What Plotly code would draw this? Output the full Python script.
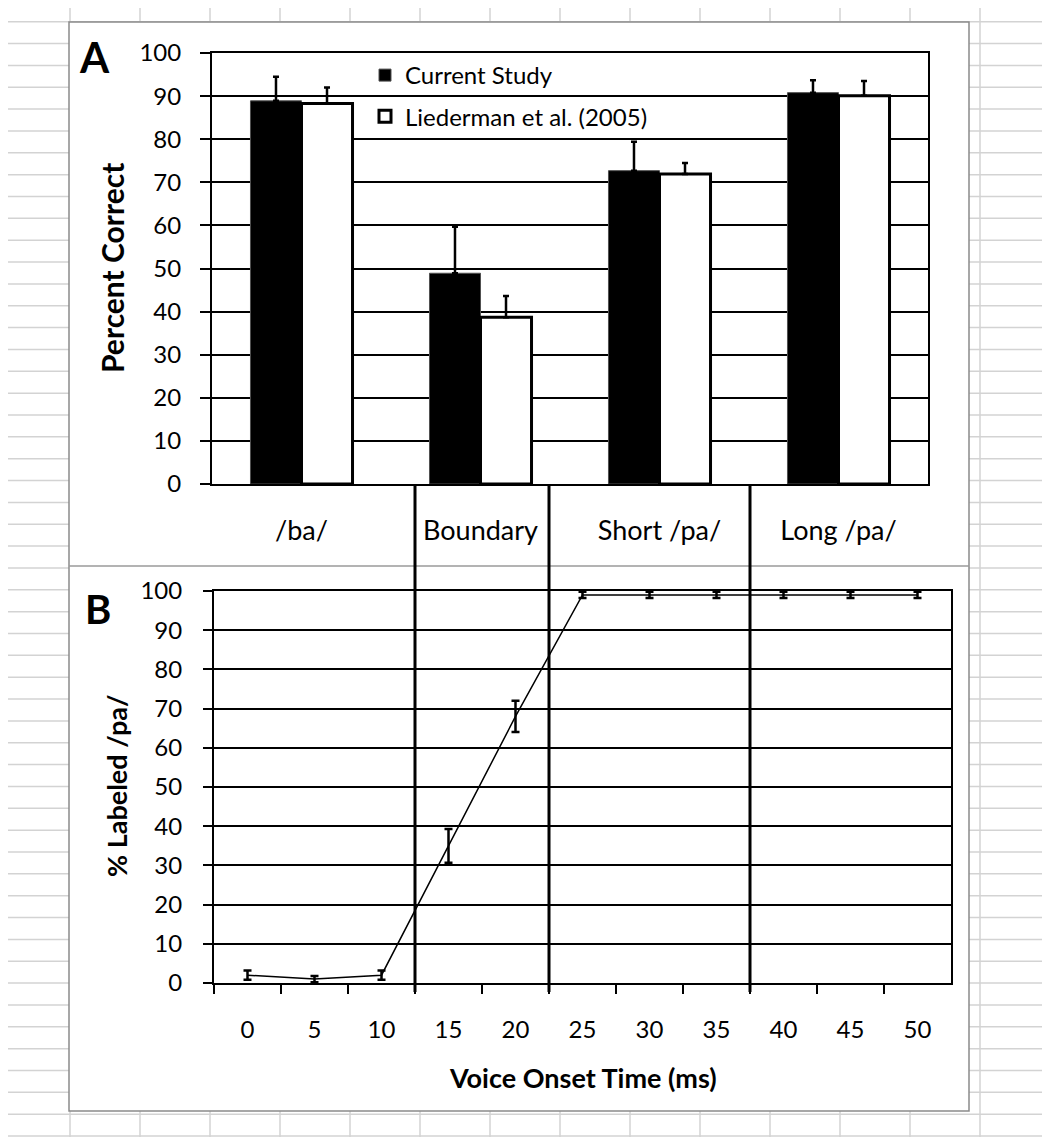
import plotly.graph_objects as go

# Panel A: percent correct per stimulus category
categories = ["/ba/", "Boundary", "Short /pa/", "Long /pa/"]
current_study = [88.9, 48.9, 72.7, 90.8]
current_err = [5.6, 10.8, 6.7, 2.9]
liederman = [88.3, 38.7, 71.9, 90.1]
liederman_err = [3.7, 4.9, 2.6, 3.4]

# Panel B: identification function
vot_ms = ["0", "5", "10", "15", "20", "25", "30", "35", "40", "45", "50"]
pct_labeled_pa = [2, 1, 2, 35, 68, 99, 99, 99, 99, 99, 99]
pct_err = [1.2, 0.8, 1.2, 4.3, 4.0, 0.8, 0.8, 0.8, 0.8, 0.8, 0.8]

# category boundaries on the VOT axis (between 10|15, 20|25, 35|40)
region_edges = [2.5, 4.5, 7.5]

FONT = "Lato"
W, H = 1050, 1137
OFF = 8  # page body margin of the html file


def px_x(v):
    return (v - OFF) / W


def px_y(v):
    return 1 - (v - OFF) / H


fig = go.Figure()

fig.add_trace(go.Bar(
    x=categories, y=current_study, name="Current Study",
    marker=dict(color="black", line=dict(color="#505050", width=1)),
    error_y=dict(type="data", symmetric=False, array=current_err,
                 arrayminus=[0] * len(current_err), color="black",
                 thickness=2.5, width=3),
    xaxis="x", yaxis="y", legendgroup="a",
))
fig.add_trace(go.Bar(
    x=categories, y=liederman, name="Liederman et al. (2005)",
    marker=dict(color="white", line=dict(color="black", width=3)),
    error_y=dict(type="data", symmetric=False, array=liederman_err,
                 arrayminus=[0] * len(liederman_err), color="black",
                 thickness=2.5, width=3),
    xaxis="x", yaxis="y", legendgroup="b",
))
fig.add_trace(go.Scatter(
    x=vot_ms, y=pct_labeled_pa, mode="lines",
    line=dict(color="black", width=1.5),
    error_y=dict(type="data", array=pct_err, color="black",
                 thickness=2.5, width=4),
    xaxis="x2", yaxis="y2", showlegend=False,
))

# spreadsheet background
shapes = []
grid = dict(color="#d3d3d3", width=1.5)
for k in range(1, 15):
    shapes.append(dict(type="line", xref="paper", yref="paper", layer="below",
                       x0=px_x(70 * k), x1=px_x(70 * k), y0=-0.05, y1=1.05, line=grid))
for k in range(0, 53):
    y = 21.7 + 21.85 * k
    shapes.append(dict(type="line", xref="paper", yref="paper", layer="below",
                       x0=-0.05, x1=1.05, y0=px_y(y), y1=px_y(y), line=grid))
# chart box
shapes.append(dict(type="rect", xref="paper", yref="paper", layer="below",
                   x0=px_x(69), x1=px_x(969), y0=px_y(1111), y1=px_y(22),
                   fillcolor="white", line=dict(color="#8a8a8a", width=1.5)))
shapes.append(dict(type="line", xref="paper", yref="paper", layer="below",
                   x0=px_x(69), x1=px_x(969), y0=px_y(566), y1=px_y(566),
                   line=dict(color="#9a9a9a", width=1.5)))
# region dividers linking panel A categories to the VOT axis
for e in region_edges:
    shapes.append(dict(type="line", xref="x2", yref="paper",
                       x0=e, x1=e, y0=px_y(992), y1=px_y(484),
                       line=dict(color="black", width=3)))

axis_common = dict(showline=True, linecolor="black", linewidth=2, mirror=True,
                   automargin=False)
tick_font = dict(family=FONT, size=24, color="black")


def ann(text, x, y, size, angle=0):
    return dict(text=text, xref="paper", yref="paper", x=px_x(x), y=px_y(y),
                xanchor="center", yanchor="middle", textangle=angle,
                showarrow=False, font=dict(family=FONT, size=size, color="black"))


fig.update_layout(
    width=W, height=H,
    margin=dict(l=0, r=0, t=0, b=0, pad=0),
    paper_bgcolor="white", plot_bgcolor="rgba(0,0,0,0)",
    barmode="group", bargap=0.43, bargroupgap=0,
    font=dict(family=FONT, color="black"),
    shapes=shapes,
    showlegend=True,
    legend=dict(x=px_x(365), y=px_y(53), xanchor="left", yanchor="top",
                bgcolor="rgba(0,0,0,0)", font=dict(family=FONT, size=24),
                tracegroupgap=7, traceorder="grouped"),
    xaxis=dict(domain=[px_x(212), px_x(928)], anchor="y", type="category",
               range=[-0.5, 3.5], ticks="", showgrid=False,
               ticklabelstandoff=22, tickfont=dict(family=FONT, size=27, color="black"),
               **axis_common),
    yaxis=dict(domain=[px_y(484), px_y(53)], anchor="x", range=[0, 100],
               dtick=10, ticks="outside", ticklen=10, tickwidth=2,
               tickcolor="black", showgrid=True, gridcolor="black",
               gridwidth=2, ticklabelstandoff=14, tickfont=tick_font, **axis_common),
    xaxis2=dict(domain=[px_x(214), px_x(951)], anchor="y2", type="category",
                range=[-0.5, 10.5], ticks="outside", tickson="boundaries",
                ticklen=9, tickwidth=2, tickcolor="black", showgrid=False,
                ticklabelstandoff=24, tickfont=tick_font, **axis_common),
    yaxis2=dict(domain=[px_y(983), px_y(591)], anchor="x2", range=[0, 100],
                dtick=10, ticks="outside", ticklen=9, tickwidth=2,
                tickcolor="black", showgrid=True, gridcolor="black",
                gridwidth=2, ticklabelstandoff=16, tickfont=tick_font, **axis_common),
    annotations=[
        ann("<b>A</b>", 94, 57, 42),
        ann("<b>B</b>", 98, 609, 40),
        ann("<b>Percent Correct</b>", 112, 268, 30, -90),
        ann("<b>% Labeled /pa/</b>", 116, 786, 27, -90),
        ann("<b>Voice Onset Time (ms)</b>", 583, 1077, 27),
    ],
)

fig.write_html("out.html")
